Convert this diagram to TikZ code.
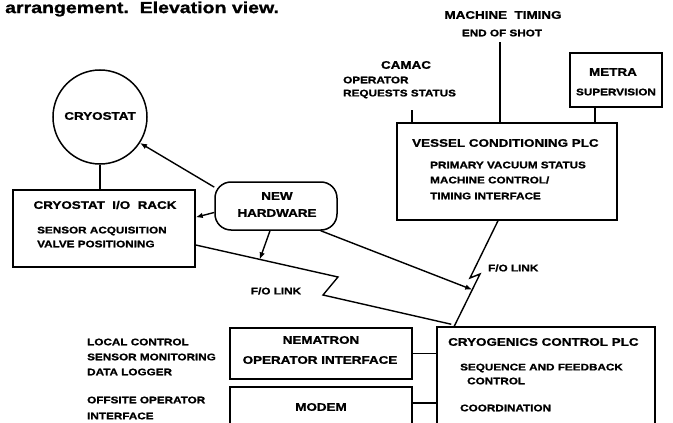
\documentclass[tikz,border=0pt]{standalone}
\usepackage{fontspec}
\usetikzlibrary{arrows.meta,calc}
\newfontfamily\diafont[FakeStretch=1.22, BoldFont={Liberation Sans Bold}, BoldFeatures={FakeBold=1.2}]{Liberation Sans}
\tikzset{
  x=1pt, y=-1pt,
  box/.style={draw, line width=1.5pt, inner sep=0pt},
  conn/.style={line width=1.4pt},
  arr/.style={conn, -{Latex[length=7pt,width=5.5pt]}},
  hd/.style={font=\diafont\bfseries\fontsize{11}{12}\selectfont, inner sep=0pt},
  sm/.style={font=\diafont\bfseries\fontsize{9.6}{10}\selectfont, inner sep=0pt},
  lw/.style={anchor=west},
}
\begin{document}
\begin{tikzpicture}
\useasboundingbox (0,0) rectangle (673,423);
\clip (0,0) rectangle (673,423);
\fill[white] (0,0) rectangle (673,423);

% caption fragment
\node[font=\diafont\bfseries\fontsize{16}{17}\selectfont, inner sep=0pt, anchor=west] (cap) at (5,9) {arrangement.\ \ Elevation view.};

% boxes
\node[box, circle, minimum size=94pt] (cryo) at (100,117) {};
\node[box, minimum width=182pt, minimum height=77pt] (iorack) at (104,228.5) {};
\node[box, rounded corners=16pt, minimum width=122pt, minimum height=48pt] (newhw) at (276,206) {};
\node[box, minimum width=220pt, minimum height=97pt] (vessel) at (507,171.5) {};
\node[box, minimum width=92pt, minimum height=54pt] (metra) at (616,80) {};
\node[box, minimum width=182pt, minimum height=51pt] (nema) at (321,353.5) {};
\node[box, minimum width=182pt, minimum height=53pt] (modem) at (321,413.5) {};
\node[box, minimum width=218pt, minimum height=113pt] (cryog) at (546,383.5) {};

% texts
\node[hd] (tcryo) at (100,116) {CRYOSTAT};
\node[hd] (tio) at (105,205) {CRYOSTAT\ \ I/O\ \ RACK};
\node[sm, lw] (tio1) at (37,231) {SENSOR ACQUISITION};
\node[sm, lw] (tio2) at (37,244) {VALVE POSITIONING};
\node[hd] (tnew1) at (277,196) {NEW};
\node[hd] (tnew2) at (277,213) {HARDWARE};
\node[hd, lw] (tves) at (412,143) {VESSEL\ CONDITIONING\ PLC};
\node[sm, lw] (tves1) at (430,165) {PRIMARY VACUUM STATUS};
\node[sm, lw] (tves2) at (430,180) {MACHINE CONTROL/};
\node[sm, lw] (tves3) at (430,196) {TIMING INTERFACE};
\node[hd] (tmet1) at (613,72) {METRA};
\node[sm] (tmet2) at (616,92) {SUPERVISION};
\node[hd] (tmach) at (503,15) {MACHINE\ \ TIMING};
\node[sm] (tshot) at (502,33) {END OF SHOT};
\node[hd] (tcam) at (406,65) {CAMAC};
\node[sm, lw] (tcam1) at (343,80) {OPERATOR};
\node[sm, lw] (tcam2) at (343,94) {REQUESTS STATUS};
\node[sm] (tfo1) at (276,291) {F/O LINK};
\node[sm, lw] (tfo2) at (488,268) {F/O LINK};
\node[sm, lw] (tl1) at (87,342) {LOCAL CONTROL};
\node[sm, lw] (tl2) at (87,357) {SENSOR MONITORING};
\node[sm, lw] (tl3) at (87,372) {DATA LOGGER};
\node[sm, lw] (tl4) at (87,400) {OFFSITE OPERATOR};
\node[sm, lw] (tl5) at (87,416) {INTERFACE};
\node[hd] (tnem1) at (321,340) {NEMATRON};
\node[hd] (tnem2) at (320,360) {OPERATOR INTERFACE};
\node[hd] (tmod) at (321,407) {MODEM};
\node[hd, lw] (tcg) at (448,342) {CRYOGENICS CONTROL PLC};
\node[sm, lw] (tcg1) at (460,368) {SEQUENCE AND FEEDBACK};
\node[sm, lw] (tcg2) at (467,381) {CONTROL};
\node[sm, lw] (tcg3) at (460,408) {COORDINATION};

% helper coordinates
\coordinate (y245) at (0,245);
\coordinate (fa) at (iorack.east |- y245);
\coordinate (fb) at (338,277);
\coordinate (fc) at (323,295);
\coordinate (fd) at ($(cryog.north west)+(15,-2)$);
\coordinate (x498) at (498,0);
\coordinate (za) at (x498 |- vessel.south);
\coordinate (zb) at (470,278);
\coordinate (zc) at (480,274);
\coordinate (zd) at ($(cryog.north west)+(18,0)$);
\coordinate (camacT) at (412,110);
\coordinate (timT) at (500,42);
\coordinate (x595) at (595,0);
\coordinate (y403) at (0,403);

% connectors
\draw[conn] (cryo.south) -- (cryo.south |- iorack.north);
\draw[arr] (newhw.163) -- (cryo.-33);
\draw[arr] (newhw.186) -- (iorack.7);
\draw[conn] (fa) -- (fb) -- (fc) -- (fd);
\draw[arr] ($(newhw.south)+(-6,0)$) -- ($(fa)!0.45!(fb)$);
\draw[conn] (za) -- (zb) -- (zc) -- (zd);
\draw[arr] ($(newhw.south east)+(-17,0)$) -- ($(zc)!0.3!(zd)$);
\draw[conn] (camacT) -- (camacT |- vessel.north);
\draw[conn] (timT) -- (timT |- vessel.north);
\draw[conn] (x595 |- metra.south) -- (x595 |- vessel.north);
\draw[conn] (nema.east) -- (nema.east -| cryog.west);
\draw[conn] (y403 -| modem.east) -- (y403 -| cryog.west);
\end{tikzpicture}
\end{document}
